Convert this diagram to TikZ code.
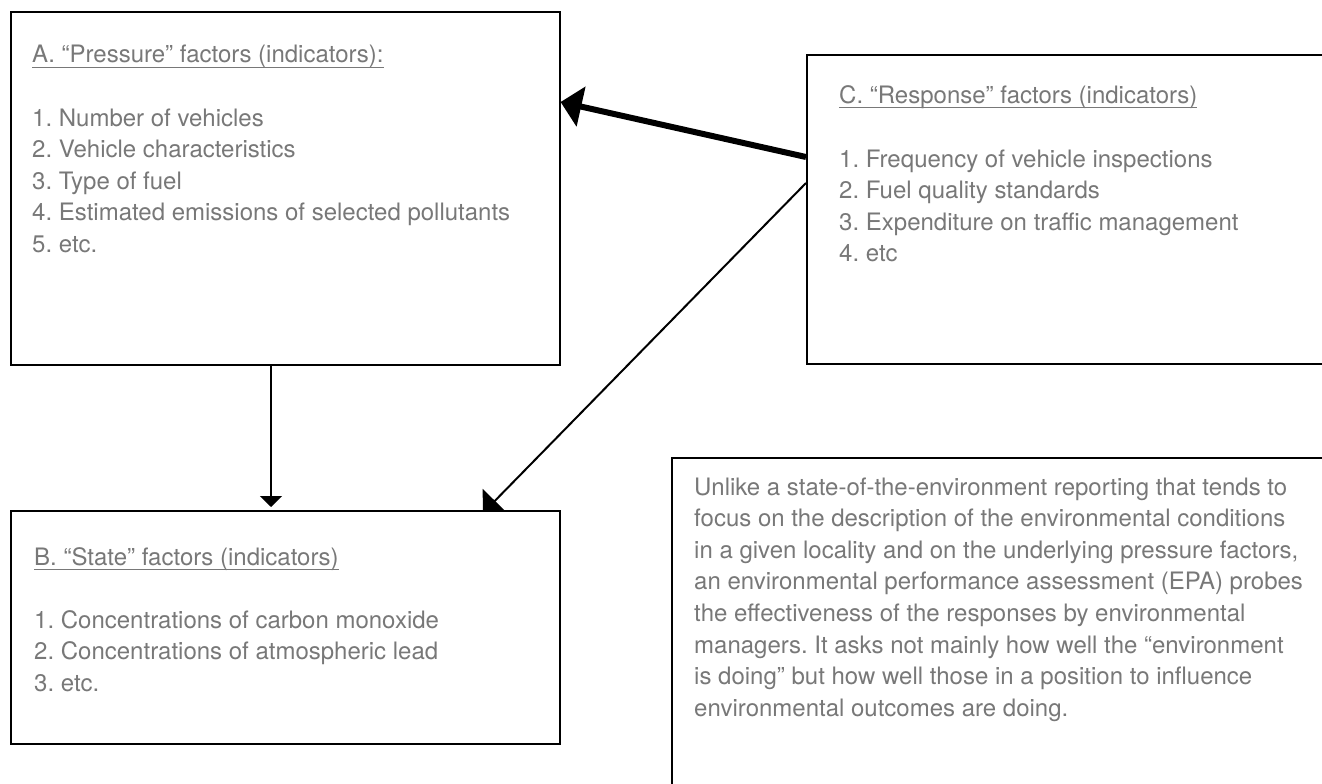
\documentclass[tikz,border=0pt]{standalone}
\usepackage{fontspec}
\setmainfont{TeX Gyre Heros}
\usetikzlibrary{arrows.meta,backgrounds}
\definecolor{textgray}{HTML}{787878}
\frenchspacing
\tikzset{
	factorbox/.style={draw=black, line width=1.6pt, fill=white, rectangle, inner sep=0pt, anchor=north west},
	factortext/.style={text=textgray, inner sep=0pt, anchor=base west, font=\fontsize{24}{31.6}\selectfont},
	link/.style={line width=2pt, color=black},
}
\def\titleline(#1){\draw[textgray, line width=1.2pt] ([yshift=-4.5pt]#1.base west) -- ([yshift=-4.5pt]#1.base east);}
\newcommand{\itemlines}[1]{\begin{tabular}[t]{@{}l@{}}#1\end{tabular}}

\begin{document}
\begin{tikzpicture}[x=1pt, y=-1pt]
	%%%%% START %%%%%
	\useasboundingbox (0,0) rectangle (1322,784);
	\clip (0,0) rectangle (1322,784);
	
	\node[factorbox, minimum width=549pt, minimum height=353pt] (pressure) at (10,11) {};
	\node[factorbox, minimum width=549pt, minimum height=233pt] (state) at (10,510) {};
	\node[factorbox, minimum width=540pt, minimum height=309pt] (response) at (806,54) {};
	\node[factorbox, minimum width=680pt, minimum height=360pt] (note) at (671,457) {};
	
	\node[factortext] (pressuretitle) at ([shift={(22,52)}]pressure.north west) {A. “Pressure” factors (indicators):};
	\titleline(pressuretitle);
	\node[factortext] (pressurelist) at ([shift={(22,115)}]pressure.north west) {\itemlines{1. Number of vehicles\\2. Vehicle characteristics\\3. Type of fuel\\4. Estimated emissions of selected pollutants\\5. etc.}};
	
	\node[factortext] (statetitle) at ([shift={(24,55)}]state.north west) {B. “State” factors (indicators)};
	\titleline(statetitle);
	\node[factortext] (statelist) at ([shift={(24,118)}]state.north west) {\itemlines{1. Concentrations of carbon monoxide\\2. Concentrations of atmospheric lead\\3. etc.}};
	
	\node[factortext] (responsetitle) at ([shift={(33,49)}]response.north west) {C. “Response” factors (indicators)};
	\titleline(responsetitle);
	\node[factortext] (responselist) at ([shift={(33,113)}]response.north west) {\itemlines{1. Frequency of vehicle inspections\\2. Fuel quality standards\\3. Expenditure on traffic management\\4. etc}};
	
	\node[factortext] (notetext) at ([shift={(23,38)}]note.north west) {\itemlines{Unlike a state-of-the-environment reporting that tends to\\focus on the description of the environmental conditions\\in a given locality and on the underlying pressure factors,\\an environmental performance assessment (EPA) probes\\the effectiveness of the responses by environmental\\managers. It asks not mainly how well the “environment\\is doing” but how well those in a position to influence\\environmental outcomes are doing.}};
	
	\begin{scope}[on background layer]
		\draw[link, line width=6pt, -{Triangle[length=21pt,width=40pt]}] ([yshift=-103pt]response.north west) -- ([yshift=-91pt]pressure.north east);
		\draw[link, -{Triangle[length=11pt,width=22pt]}] ([xshift=261pt]pressure.south west) -- ([xshift=261pt,yshift=3pt]state.north west);
		\draw[link, -{Triangle[length=17pt,width=34pt]}] ([yshift=-129pt]response.north west) -- ([xshift=473pt,yshift=-3pt]state.north west);
	\end{scope}
	
	%%%%% END %%%%%
\end{tikzpicture}
\end{document}
